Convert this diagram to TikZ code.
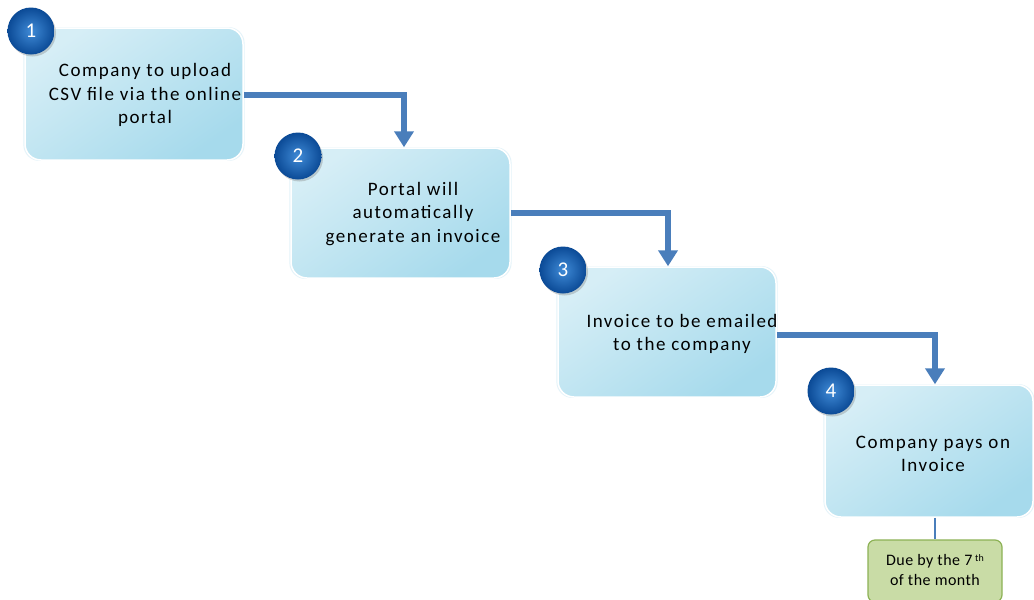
\documentclass[tikz,border=0pt]{standalone}
\usepackage{fontspec}
\setmainfont{Carlito}
\newfontfamily\boxfont{Carlito}[LetterSpace=8]
\newfontfamily\duefont{Carlito}[LetterSpace=3]
\usetikzlibrary{arrows.meta,shadows,calc}
\definecolor{flowblue}{HTML}{4A7EBB}
\definecolor{boxtop}{HTML}{D6EEF6}
\definecolor{boxbot}{HTML}{A6DAEC}
\definecolor{ballin}{HTML}{3F8AD6}
\definecolor{ballout}{HTML}{0B4A96}
\definecolor{greenfill}{HTML}{C9DCA6}
\definecolor{greenline}{HTML}{8DB255}
\tikzset{
  stepbox/.style={rectangle, rounded corners=16pt, inner sep=0pt,
    top color=boxtop, bottom color=boxbot, shading angle=35,
    draw=white, line width=1.5pt,
    drop shadow={shadow xshift=0pt, shadow yshift=0pt, shadow scale=1.015, opacity=0.3, fill=boxbot}},
  stepnum/.style={circle, minimum size=47pt, inner sep=0pt,
    inner color=ballin, outer color=ballout, text=white,
    font=\fontsize{21}{21}\selectfont,
    drop shadow={shadow xshift=1.5pt, shadow yshift=-2pt, opacity=0.35}},
  steptext/.style={align=center, text=black, font=\boxfont\fontsize{19}{23.5}\selectfont},
  flow/.style={draw=flowblue, line width=5.5pt, -{Triangle[width=19pt,length=16pt]}},
  duebox/.style={rectangle, rounded corners=7pt, fill=greenfill, draw=greenline, line width=1.2pt,
    minimum width=134pt, minimum height=62pt, inner sep=0pt},
  duetext/.style={align=center, text=black, font=\duefont\fontsize{16}{20}\selectfont},
}
\begin{document}
\begin{tikzpicture}[x=1pt,y=-1pt]
\useasboundingbox (0,0) rectangle (1034,600);
\fill[white] (0,0) rectangle (1034,600);
% boxes
\node[stepbox, minimum width=218pt, minimum height=132pt] (b1) at (134,94) {};
\node[stepbox, minimum width=219pt, minimum height=130pt] (b2) at (400.5,213) {};
\node[stepbox, minimum width=218pt, minimum height=130pt] (b3) at (667,332) {};
\node[stepbox, minimum width=208pt, minimum height=132pt] (b4) at (929,451) {};
% texts
\node[steptext] (t1) at (145,95) {Company to upload\\CSV file via the online\\portal};
\node[steptext] (t2) at (413,214) {Portal will\\automatically\\generate an invoice};
\node[steptext] (t3) at (682,334) {Invoice to be emailed\\to the company};
\node[steptext] (t4) at (933,454) {Company pays on\\Invoice};
% numbers
\node[stepnum] (n1) at (31,31) {1};
\node[stepnum] (n2) at (298,156) {2};
\node[stepnum] (n3) at (563,270) {3};
\node[stepnum] (n4) at (831,391) {4};
% arrows
\coordinate (e1) at ($(b1.east)+(0,1)$);
\coordinate (a1) at ($(b2.north)+(3.5,0)$);
\draw[flow] (e1) -| (a1);
\coordinate (a2) at ($(b3.north)+(1,0)$);
\draw[flow] (b2.east) -| (a2);
\coordinate (e3) at ($(b3.east)+(0,3)$);
\coordinate (a3) at ($(b4.north)+(6,0)$);
\draw[flow] (e3) -| (a3);
% due note
\node[duebox] (d) at (935,571) {};
\node[duetext] (dt) at (935,570) {Due by the 7\,\raisebox{0.55ex}{\fontsize{10}{10}\selectfont th}\\of the month};
\coordinate (s4) at ($(b4.south)+(6,0)$);
\draw[flowblue, line width=1.3pt] (s4) -- (s4 |- d.north);
\end{tikzpicture}
\end{document}
